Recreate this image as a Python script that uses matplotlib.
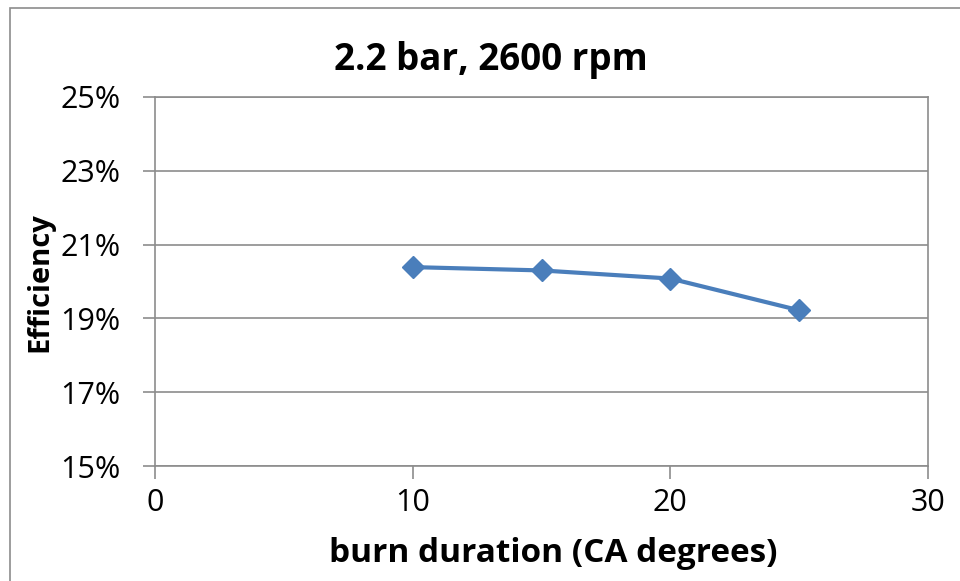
import matplotlib
matplotlib.use("Agg")
import matplotlib.pyplot as plt
from matplotlib.patches import Rectangle
from matplotlib.ticker import FuncFormatter

burn_duration = [10, 15, 20, 25]
efficiency = [20.39, 20.30, 20.08, 19.22]
x_ticks = [0, 10, 20, 30]
y_ticks = [15, 17, 19, 21, 23, 25]

plt.rcParams['font.family'] = ['Open Sans', 'DejaVu Sans']

fig = plt.figure(figsize=(9.6, 5.81), dpi=100)
ax = fig.add_axes([155/960, 1-466/581, (928-155)/960, (466-97)/581])

ax.plot(burn_duration, efficiency, color='#4A7EBB', linewidth=3,
        marker='D', markersize=11, markerfacecolor='#4A7EBB',
        markeredgecolor='#4A7EBB', zorder=3)

ax.set_xlim(0, 30)
ax.set_ylim(15, 25)
ax.set_xticks(x_ticks)
ax.set_yticks(y_ticks)
ax.yaxis.set_major_formatter(FuncFormatter(lambda v, p: f"{v:.0f}%"))
ax.grid(axis='y', color='#8C8C8C', linewidth=1.2)
ax.set_axisbelow(True)
for s in ax.spines.values():
    s.set_color('#8C8C8C')
    s.set_linewidth(1.2)
ax.tick_params(axis='both', direction='out', length=9, width=1.2,
               color='#8C8C8C', labelsize=22, labelcolor='black')
ax.tick_params(axis='y', pad=16)
ax.tick_params(axis='x', pad=7)

fig.text(491/960, 1-60/581, '2.2 bar, 2600 rpm', fontsize=26.5, fontweight='bold',
         ha='center', va='center')
fig.text(553/960, 1-553/581, 'burn duration (CA degrees)', fontsize=24,
         fontweight='bold', ha='center', va='center')
fig.text(40/960, 1-282/581, 'Efficiency', fontsize=21, fontweight='bold',
         ha='center', va='center', rotation=90)

fig.patches.append(Rectangle((10/960, -0.1), 1.0, 1-8/581+0.1,
                             transform=fig.transFigure, fill=False,
                             edgecolor='#8C8C8C', linewidth=1.2))

fig.savefig('out.png', dpi=100)
